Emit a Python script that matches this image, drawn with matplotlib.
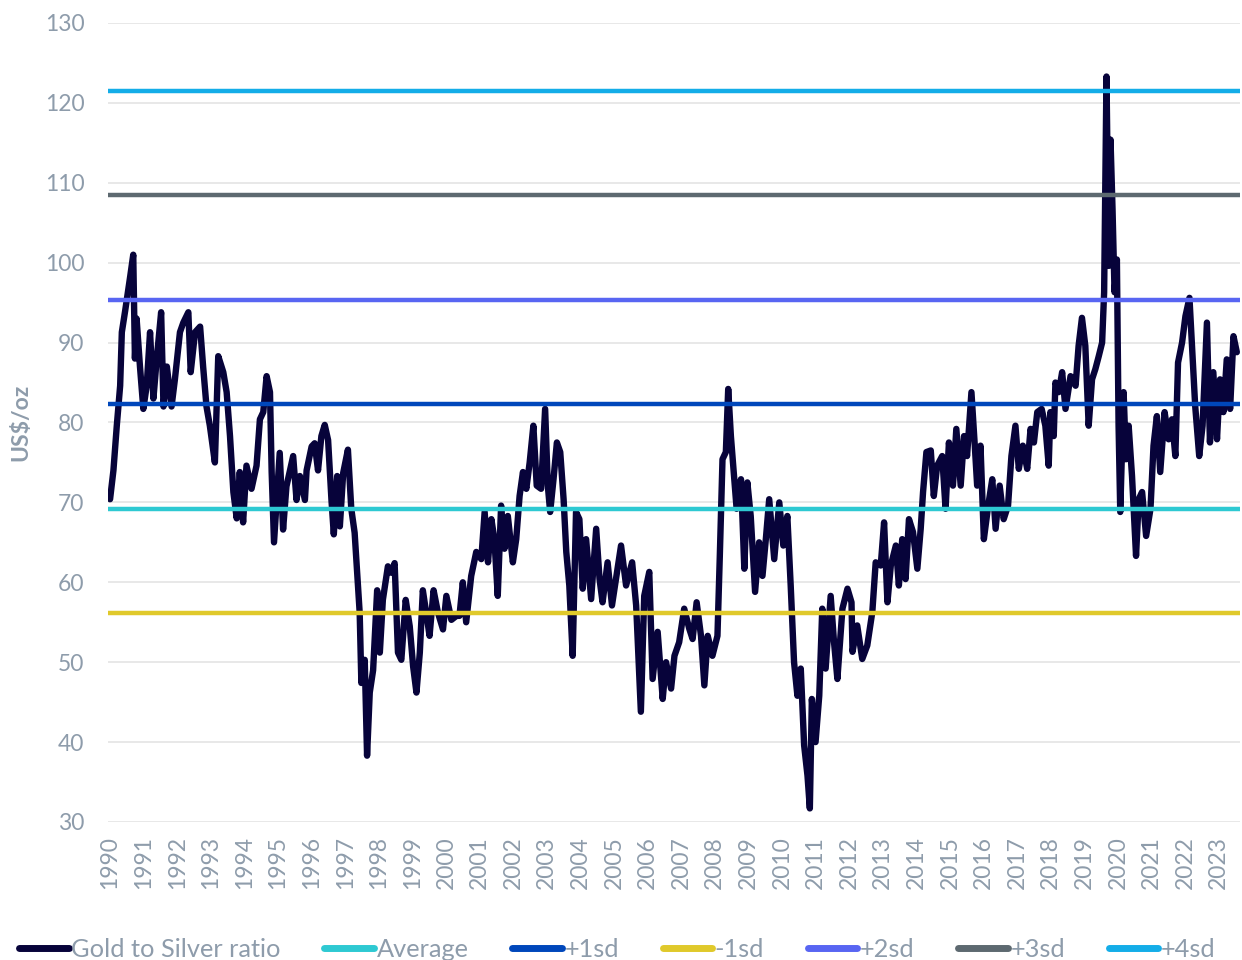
import matplotlib
matplotlib.use("Agg")
import matplotlib.pyplot as plt
import numpy as np

# ---- data (decimal year positions, gold/silver ratio) ----
years = [
    1990.00, 1990.10, 1990.20, 1990.30, 1990.35, 1990.45, 1990.60, 1990.69, 1990.74, 1990.79,
    1990.89, 1990.99, 1991.09, 1991.19, 1991.29, 1991.39, 1991.52, 1991.59, 1991.69, 1991.83,
    1991.93, 1992.08, 1992.18, 1992.33, 1992.40, 1992.53, 1992.68, 1992.77, 1992.87, 1992.97,
    1993.12, 1993.22, 1993.37, 1993.47, 1993.57, 1993.67, 1993.77, 1993.86, 1993.96, 1994.06,
    1994.21, 1994.36, 1994.46, 1994.56, 1994.66, 1994.76, 1994.81, 1994.88,
    1995.05, 1995.15, 1995.25, 1995.45, 1995.55, 1995.65, 1995.80, 1995.85, 1996.00, 1996.09,
    1996.19, 1996.29, 1996.39, 1996.49, 1996.59, 1996.66, 1996.76, 1996.84, 1996.94, 1997.08,
    1997.18, 1997.28, 1997.33, 1997.43, 1997.48, 1997.58, 1997.65, 1997.73, 1997.83, 1997.95,
    1998.03, 1998.12, 1998.27, 1998.37, 1998.47, 1998.57, 1998.67, 1998.80, 1998.92, 1999.02,
    1999.12, 1999.22, 1999.31, 1999.41, 1999.51, 1999.63, 1999.76, 1999.91, 2000.01, 2000.16,
    2000.31,
    2000.40, 2000.50, 2000.60, 2000.75, 2000.90, 2001.05, 2001.15, 2001.25, 2001.35, 2001.44,
    2001.54, 2001.64, 2001.74, 2001.84, 2001.99, 2002.09, 2002.19, 2002.29, 2002.39, 2002.49,
    2002.60, 2002.70, 2002.83, 2002.95, 2003.03, 2003.10, 2003.20, 2003.30, 2003.40, 2003.50,
    2003.58, 2003.67, 2003.77, 2003.87, 2003.97, 2004.07, 2004.17, 2004.32, 2004.47, 2004.57,
    2004.66, 2004.81, 2004.94, 2005.06, 2005.21, 2005.36, 2005.54, 2005.66, 2005.80, 2005.90,
    2006.05, 2006.15, 2006.30,
    2006.45, 2006.55, 2006.70, 2006.80, 2006.94, 2007.09, 2007.24, 2007.34, 2007.46, 2007.59,
    2007.69, 2007.79, 2007.93, 2008.08, 2008.15, 2008.23, 2008.33, 2008.40, 2008.48, 2008.58,
    2008.65, 2008.78, 2008.88, 2008.97, 2009.07, 2009.20, 2009.32, 2009.42, 2009.52, 2009.62,
    2009.77, 2009.92, 2010.04, 2010.16, 2010.26, 2010.36, 2010.46, 2010.56, 2010.66, 2010.76,
    2010.83, 2010.89, 2011.00, 2011.11, 2011.20, 2011.30, 2011.45, 2011.55, 2011.65, 2011.80,
    2011.95, 2012.07,
    2012.10, 2012.24, 2012.39, 2012.54, 2012.69, 2012.79, 2012.94, 2013.04, 2013.14, 2013.24,
    2013.39, 2013.48, 2013.58, 2013.68, 2013.78, 2013.90, 2014.03, 2014.13, 2014.20, 2014.30,
    2014.43, 2014.52, 2014.62, 2014.77, 2014.87, 2014.97, 2015.09, 2015.19, 2015.32, 2015.42,
    2015.51, 2015.64, 2015.74, 2015.81, 2015.91, 2016.01, 2016.14, 2016.26, 2016.36, 2016.48,
    2016.60, 2016.73, 2016.83, 2016.95, 2017.05, 2017.17, 2017.30, 2017.40, 2017.50, 2017.60,
    2017.73, 2017.84, 2017.94,
    2017.99, 2018.09, 2018.14, 2018.24, 2018.34, 2018.44, 2018.59, 2018.74, 2018.83, 2018.93,
    2019.03, 2019.13, 2019.23, 2019.33, 2019.43, 2019.53, 2019.59, 2019.66, 2019.73, 2019.78,
    2019.84, 2019.90, 2019.97, 2020.02, 2020.07, 2020.17, 2020.24, 2020.32, 2020.42, 2020.54,
    2020.62, 2020.72, 2020.84, 2020.97, 2021.06, 2021.16, 2021.26, 2021.39, 2021.51, 2021.61,
    2021.71, 2021.79, 2021.91, 2022.01, 2022.13, 2022.20, 2022.30, 2022.42, 2022.52, 2022.65,
    2022.74, 2022.84, 2022.95, 2023.04, 2023.14, 2023.24, 2023.34, 2023.44, 2023.54,
]
ratio = [
    70.4, 74.0, 79.6, 84.6, 91.3, 94.0, 98.3, 101.0, 88.0, 93.0,
    87.0, 81.7, 84.6, 91.3, 83.0, 88.0, 93.8, 82.0, 87.0, 82.0,
    85.4, 91.3, 92.5, 93.8, 86.3, 91.3, 92.0, 87.0, 82.0, 79.6,
    75.0, 88.3, 86.3, 83.8, 78.3, 71.3, 68.0, 73.8, 67.5, 74.6,
    71.7, 74.6, 80.4, 81.3, 85.8, 83.8, 73.8, 65.0,
    76.2, 66.6, 72.0, 75.8, 70.3, 73.3, 70.3, 74.0, 77.0, 77.4,
    74.0, 78.3, 79.7, 77.8, 70.3, 66.0, 73.3, 67.0, 73.7, 76.6,
    69.2, 66.2, 62.8, 56.2, 47.4, 50.3, 38.3, 46.2, 49.0, 59.0,
    51.2, 57.8, 62.0, 61.2, 62.4, 51.2, 50.3, 57.8, 54.5, 49.5,
    46.2, 51.2, 59.0, 56.2, 53.3, 59.0, 56.2, 54.1, 58.3, 55.3,
    55.8,
    55.8, 60.0, 55.0, 60.8, 63.8, 62.9, 68.8, 62.5, 67.9, 65.4,
    58.3, 69.6, 64.2, 68.3, 62.5, 65.4, 70.8, 73.8, 71.7, 75.0,
    79.6, 72.1, 71.7, 81.7, 72.1, 68.8, 72.9, 77.5, 76.3, 70.4,
    63.8, 59.6, 50.8, 68.8, 67.9, 59.2, 65.4, 57.9, 66.7, 60.4,
    57.5, 62.5, 57.1, 60.4, 64.6, 59.6, 62.5, 57.1, 43.8, 58.3,
    61.3, 47.9, 53.8,
    45.4, 50.0, 46.7, 50.8, 52.5, 56.7, 54.2, 52.9, 57.5, 53.3,
    47.1, 53.3, 50.8, 53.3, 63.3, 75.4, 76.3, 84.2, 78.3, 72.9,
    69.2, 72.9, 61.7, 72.5, 68.3, 58.8, 65.0, 60.8, 65.4, 70.4,
    62.9, 70.0, 64.6, 68.3, 59.6, 50.0, 45.8, 49.2, 39.6, 35.8,
    31.7, 45.4, 40.0, 45.8, 56.7, 49.2, 58.3, 52.5, 47.9, 56.7,
    59.2, 57.5,
    51.3, 54.6, 50.4, 52.1, 56.3, 62.5, 62.1, 67.5, 57.5, 62.1,
    64.6, 59.6, 65.4, 60.4, 67.9, 66.3, 61.7, 66.7, 71.3, 76.3,
    76.5, 70.8, 74.6, 75.8, 69.2, 77.5, 72.1, 79.2, 72.1, 78.3,
    75.8, 83.8, 77.1, 72.1, 77.1, 65.4, 69.6, 72.9, 66.7, 72.1,
    67.9, 69.6, 75.8, 79.6, 74.2, 77.1, 74.2, 79.2, 77.5, 81.3,
    81.7, 79.6, 74.6,
    81.3, 78.3, 85.0, 83.8, 86.3, 81.7, 85.8, 84.6, 89.6, 93.1,
    89.6, 79.6, 85.4, 86.7, 88.3, 90.0, 96.3, 123.3, 99.6, 115.4,
    106.7, 96.3, 100.4, 79.6, 68.8, 83.8, 75.4, 79.6, 73.3, 63.3,
    70.4, 71.3, 65.8, 69.2, 77.1, 80.8, 73.8, 81.3, 77.9, 80.4,
    75.8, 87.5, 90.0, 93.3, 95.6, 90.0, 82.1, 75.8, 79.6, 92.5,
    77.5, 86.3, 77.9, 85.4, 81.3, 87.9, 81.7, 90.8, 88.8,
]

band_names = ["Average", "+1sd", "-1sd", "+2sd", "+3sd", "+4sd"]
band_levels = [69.2, 82.27, 56.13, 95.34, 108.41, 121.48]
band_colors = ["#2ec9d2", "#0047bb", "#e0c92b", "#5865f2", "#5d6970", "#14ade8"]

year_labels = [str(y) for y in range(1990, 2024)]
y_ticks = list(range(30, 131, 10))

series_name = "Gold to Silver ratio"
series_color = "#07033a"
text_color = "#8e9cab"

plt.rcParams["font.family"] = ["Lato", "DejaVu Sans"]

fig = plt.figure(figsize=(12.42, 9.6), dpi=100)
ax = fig.add_axes([0.087, 0.14375, 0.911, 0.8323])

for y in y_ticks:
    ax.axhline(y, color="#e6e6e6", lw=1.3, zorder=0)

for name, lvl, col in zip(band_names, band_levels, band_colors):
    ax.axhline(lvl, color=col, lw=3.2, zorder=3, label=name, solid_capstyle="round")

ax.plot(years, ratio, color=series_color, lw=4.6, zorder=2, label=series_name,
        solid_joinstyle="round", solid_capstyle="round")

ax.set_ylim(30, 130)
ax.set_xlim(1989.94, 2023.62)
ax.set_yticks(y_ticks)
ax.set_yticklabels([str(v) for v in y_ticks])
ax.set_xticks(range(1990, 2024))
ax.set_xticklabels(year_labels, rotation=90)
ax.tick_params(axis="both", length=0, colors=text_color, labelsize=16.5)
ax.tick_params(axis="y", pad=17)
ax.tick_params(axis="x", pad=10)
for s in ax.spines.values():
    s.set_visible(False)

ax.set_ylabel("US$/oz", color=text_color, fontsize=16.5, fontweight="bold")
ax.yaxis.set_label_coords(-0.068, 0.5)

handles, labels = ax.get_legend_handles_labels()
order = [labels.index(series_name)] + [labels.index(n) for n in ["Average", "+1sd", "-1sd", "+2sd", "+3sd", "+4sd"]]
leg = fig.legend([handles[i] for i in order], [labels[i] for i in order],
                 loc="center", bbox_to_anchor=(0.497, 0.011), ncol=7, frameon=False,
                 fontsize=18.3, handlelength=1.95, handletextpad=0.1, columnspacing=1.72,
                 labelcolor=text_color)
for h in leg.legend_handles:
    h.set_linewidth(5)
    h.set_solid_capstyle("round")

fig.savefig("out.png", dpi=100)
